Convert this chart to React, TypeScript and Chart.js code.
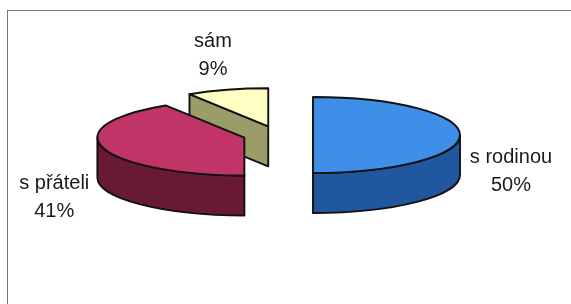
import React, { useEffect, useRef } from "react";
import { Chart, registerables } from "chart.js";

Chart.register(...registerables);

const categories = ["s rodinou", "s přáteli", "sám"];
const shares = [50, 41, 9];
const topColors = ["#3f8fe9", "#c13467", "#ffffc4"];
const sideColors = ["#21579f", "#691a33", "#9b9c68"];

const TILT = 0.2585;
const DEPTH = 40;
const EXPLODE = 35;

const pie3d = {
  id: "pie3d",
  beforeDatasetsDraw(chart: any) {
    const ctx: CanvasRenderingContext2D = chart.ctx;
    const meta = chart.getDatasetMeta(0);
    const items = meta.data.map((el: any, i: number) => {
      const s = el.startAngle, e = el.endAngle, R = el.outerRadius;
      const m = (s + e) / 2;
      const cx = el.x + Math.cos(m) * EXPLODE;
      const cy = el.y + Math.sin(m) * EXPLODE * TILT;
      return { i, s, e, R, m, cx, cy, ry: R * TILT };
    });
    items.sort((a: any, b: any) => Math.sin(a.m) - Math.sin(b.m));
    ctx.save();
    ctx.lineJoin = "round";
    ctx.lineWidth = 1.9;
    ctx.strokeStyle = "#111";
    for (const it of items) {
      const { s, e, R, cx, cy, ry, i } = it;
      const rim = (a: number) => [cx + R * Math.cos(a), cy + ry * Math.sin(a)];
      ctx.fillStyle = sideColors[i];
      const face = (a: number) => {
        const [px, py] = rim(a);
        ctx.beginPath();
        ctx.moveTo(cx, cy);
        ctx.lineTo(px, py);
        ctx.lineTo(px, py + DEPTH);
        ctx.lineTo(cx, cy + DEPTH);
        ctx.closePath();
        ctx.fill();
        ctx.stroke();
      };
      if (Math.cos(s) < -1e-3) face(s);
      if (Math.cos(e) > 1e-3) face(e);
      for (let k = -1; k <= 1; k++) {
        const a1 = Math.max(s, 2 * Math.PI * k);
        const a2 = Math.min(e, Math.PI + 2 * Math.PI * k);
        if (a2 > a1 + 1e-4) {
          const [x2, y2] = rim(a2);
          ctx.beginPath();
          ctx.ellipse(cx, cy, R, ry, 0, a1, a2, false);
          ctx.lineTo(x2, y2 + DEPTH);
          ctx.ellipse(cx, cy + DEPTH, R, ry, 0, a2, a1, true);
          ctx.closePath();
          ctx.fill();
          ctx.stroke();
        }
      }
      ctx.fillStyle = topColors[i];
      ctx.beginPath();
      ctx.moveTo(cx, cy);
      ctx.ellipse(cx, cy, R, ry, 0, s, e, false);
      ctx.closePath();
      ctx.fill();
      ctx.stroke();
    }
    ctx.restore();
    return false;
  },
  afterDraw(chart: any) {
    const ctx: CanvasRenderingContext2D = chart.ctx;
    const meta = chart.getDatasetMeta(0);
    ctx.save();
    ctx.font = '20px "Liberation Sans", Arial, sans-serif';
    ctx.fillStyle = "#1a1a1a";
    ctx.textAlign = "center";
    ctx.textBaseline = "middle";
    meta.data.forEach((el: any, i: number) => {
      const s = el.startAngle, e = el.endAngle, R = el.outerRadius;
      const m = (s + e) / 2;
      const cx = el.x + Math.cos(m) * EXPLODE;
      const cy = el.y + Math.sin(m) * EXPLODE * TILT;
      const ry = R * TILT;
      const lx = cx + Math.cos(m) * (R + 51);
      const ly = cy + Math.sin(m) * (ry + 44) + (Math.sin(m) >= -0.01 ? DEPTH * 0.92 : DEPTH * 0.2);
      ctx.fillText(categories[i], lx, ly - 14);
      ctx.fillText(shares[i] + "%", lx, ly + 14);
    });
    ctx.restore();
  },
};

export default function App() {
  const ref = useRef<HTMLCanvasElement>(null);
  useEffect(() => {
    if (!ref.current) return;
    const chart = new Chart(ref.current, {
      type: "pie",
      data: {
        labels: categories,
        datasets: [{ data: shares, backgroundColor: topColors, borderWidth: 0 }],
      },
      options: {
        animation: false,
        responsive: false,
        events: [],
        radius: 147,
        layout: { padding: { left: 0, right: 15, top: 0, bottom: 34 } },
        plugins: { legend: { display: false }, tooltip: { enabled: false } },
      } as any,
      plugins: [pie3d],
    });
    return () => chart.destroy();
  }, []);
  return (
    <div style={{ position: "fixed", left: 0, top: 0, width: 571, height: 304, overflow: "hidden", background: "#fff" }}>
      <div
        style={{
          position: "absolute",
          left: 7,
          top: 10,
          width: 700,
          height: 400,
          borderLeft: "1.5px solid #777",
          borderTop: "1.5px solid #777",
        }}
      />
      <canvas ref={ref} width={571} height={304} style={{ position: "absolute", left: 0, top: 0 }} />
    </div>
  );
}
